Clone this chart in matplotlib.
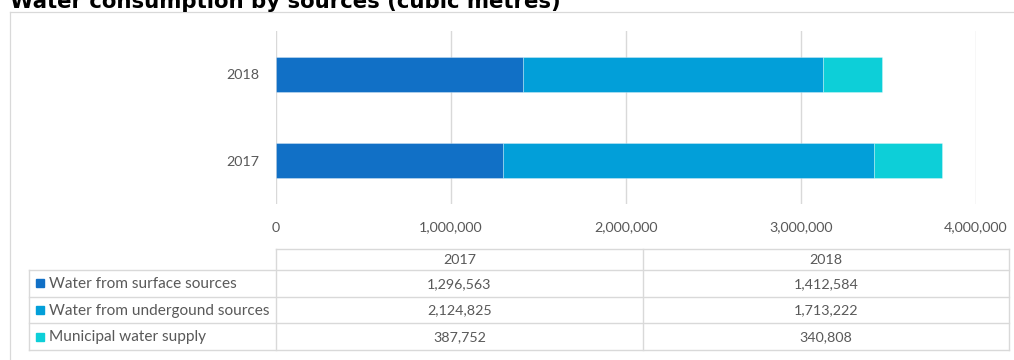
import matplotlib
matplotlib.use("Agg")
import matplotlib.pyplot as plt
from matplotlib.lines import Line2D
from matplotlib.patches import Rectangle
from matplotlib.ticker import FuncFormatter, MultipleLocator

# ---- data ----
years = ["2017", "2018"]
series_names = ["Water from surface sources",
                "Water from undergound sources",
                "Municipal water supply"]
surface = [1296563, 1412584]
underground = [2124825, 1713222]
municipal = [387752, 340808]
colors = ["#1170C6", "#029FD9", "#0DCFD8"]
title_text = "Water consumption by sources (cubic metres)"

W, H = 1014, 360
fig = plt.figure(figsize=(W / 100, H / 100), dpi=100)
fig.patch.set_facecolor("white")

FONT = "Lato"
TXT = "#595959"
GRID = "#d9d9d9"
FS = 10.3
FS_LAB = 11.1

# ---- decoration layer in pixel coordinates ----
deco = fig.add_axes([0, 0, 1, 1], zorder=0)
deco.set_xlim(0, W)
deco.set_ylim(H, 0)
deco.axis("off")

# chart frame (cropped: only left and top visible)
deco.add_line(Line2D([9.5, 9.5], [11.5, H], color=GRID, lw=0.9))
deco.add_line(Line2D([9.5, W], [11.5, 11.5], color=GRID, lw=0.9))

# ---- bar axes ----
left_px, right_px = 275.7, 975.7
top_px, bot_px = 31, 204
ax = fig.add_axes([left_px / W, (H - bot_px) / H,
                   (right_px - left_px) / W, (bot_px - top_px) / H], zorder=1)
ax.patch.set_alpha(0)
ypos = list(range(len(years)))
series = [surface, underground, municipal]
lefts = [0] * len(years)
for vals, c in zip(series, colors):
    ax.barh(ypos, vals, left=lefts, height=0.4, color=c,
            edgecolor=(1, 1, 1, 0.35), linewidth=0.6, zorder=3)
    lefts = [a + b for a, b in zip(lefts, vals)]

ax.set_xlim(0, 4000000)
ax.set_ylim(-0.5, 1.5)
ax.xaxis.set_major_locator(MultipleLocator(1000000))
ax.xaxis.set_major_formatter(FuncFormatter(lambda v, p: f"{int(v):,}"))
ax.set_yticks(ypos)
ax.set_yticklabels(years)
ax.grid(axis="x", color=GRID, lw=1.0, zorder=0)
for s in ax.spines.values():
    s.set_visible(False)
ax.tick_params(axis="both", length=0, labelcolor=TXT, labelsize=FS)
ax.tick_params(axis="x", pad=12.6)
ax.tick_params(axis="y", pad=11.5)
for lab in ax.get_xticklabels() + ax.get_yticklabels():
    lab.set_fontfamily(FONT)

# ---- data table ----
xcols = [29.3, 276, 642.7, 1009.3]
hdr_top = 249
rows_y = [270, 296.7, 323.3, 350]
tl = dict(color=GRID, lw=1.0)
deco.add_line(Line2D([xcols[1], xcols[3]], [hdr_top, hdr_top], **tl))
for y in rows_y:
    deco.add_line(Line2D([xcols[0], xcols[3]], [y, y], **tl))
deco.add_line(Line2D([xcols[0], xcols[0]], [rows_y[0], rows_y[-1]], **tl))
for x in xcols[1:]:
    deco.add_line(Line2D([x, x], [hdr_top, rows_y[-1]], **tl))

for j, yr in enumerate(years):
    cx = (xcols[1 + j] + xcols[2 + j]) / 2
    deco.text(cx, (hdr_top + rows_y[0]) / 2 + 0.5, yr, ha="center", va="center",
              color=TXT, fontsize=FS, family=FONT)
for i, (name, vals, c) in enumerate(zip(series_names, series, colors)):
    cy = (rows_y[i] + rows_y[i + 1]) / 2
    deco.add_patch(Rectangle((36, cy - 4), 8, 8, color=c))
    deco.text(49, cy + 0.5, name, ha="left", va="center", color=TXT,
              fontsize=FS_LAB, family=FONT)
    for j in range(len(years)):
        cx = (xcols[1 + j] + xcols[2 + j]) / 2
        deco.text(cx, cy + 0.5, f"{vals[j]:,}", ha="center", va="center",
                  color=TXT, fontsize=FS, family=FONT)

# ---- title (cropped at top, as in the reference) ----
t = deco.text(10, 8.5, title_text, ha="left", va="baseline", color="black",
              fontsize=15, fontweight="bold", family="DejaVu Sans")
fig.canvas.draw()
bb = t.get_window_extent(fig.canvas.get_renderer())
t.set_fontsize(15 * 555 / bb.width)

fig.savefig("out.png", dpi=100, facecolor="white")
